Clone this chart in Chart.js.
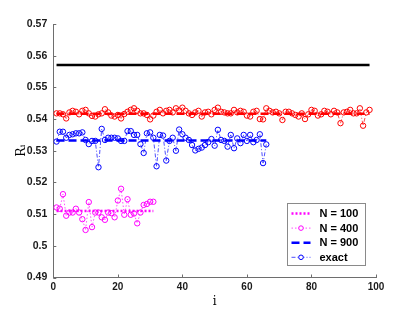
<!DOCTYPE html>
<html>
<head>
<meta charset="utf-8">
<script src="https://cdn.jsdelivr.net/npm/chart.js@4/dist/chart.umd.min.js"></script>
<style>
  html, body { margin: 0; padding: 0; background: #ffffff; }
  canvas { display: block; }
</style>
</head>
<body>
<canvas id="chart" width="415" height="312"></canvas>
<script>
// values
const X_TICKS = [0, 20, 40, 60, 80, 100];
const Y_TICKS = [0.49, 0.5, 0.51, 0.52, 0.53, 0.54, 0.55, 0.56, 0.57];

const exactLevel = 0.5571;
const exactRange = [1, 98];

const redValues = [
  0.5418, 0.5418, 0.5415, 0.5402, 0.5421, 0.5426, 0.5423, 0.5415, 0.5426, 0.5429,
  0.5418, 0.5410, 0.5408, 0.5415, 0.5418, 0.5431, 0.5421, 0.5411, 0.5408, 0.5413,
  0.5402, 0.5416, 0.5423, 0.5429, 0.5434, 0.5426, 0.5418, 0.5418, 0.5413, 0.5399,
  0.5411, 0.5423, 0.5429, 0.5418, 0.5426, 0.5429, 0.5421, 0.5434, 0.5427, 0.5436,
  0.5426, 0.5418, 0.5413, 0.5421, 0.5426, 0.5408, 0.5421, 0.5423,
  0.5415, 0.5429, 0.5436, 0.5423, 0.5421, 0.5418, 0.5418, 0.5429, 0.5421, 0.5426,
  0.5423, 0.5411, 0.5408, 0.5423, 0.5426, 0.5400, 0.5399, 0.5434, 0.5426, 0.5421,
  0.5423, 0.5418, 0.5397, 0.5423, 0.5423, 0.5418, 0.5413, 0.5408, 0.5418, 0.5400,
  0.5415, 0.5429, 0.5426, 0.5411, 0.5415, 0.5426, 0.5423, 0.5415, 0.5426, 0.5421,
  0.5387, 0.5421, 0.5423, 0.5429, 0.5418, 0.5418, 0.5434, 0.5379, 0.5421, 0.5429
];
const redMean = 0.5417;

const blueValues = [
  0.5329, 0.5360, 0.5360, 0.5341, 0.5350, 0.5352, 0.5355, 0.5355, 0.5358, 0.5334,
  0.5321, 0.5331, 0.5331, 0.5248, 0.5369, 0.5334, 0.5341, 0.5341, 0.5341, 0.5339,
  0.5331, 0.5331, 0.5362, 0.5362, 0.5350, 0.5350, 0.5321, 0.5293, 0.5355, 0.5358,
  0.5341, 0.5251, 0.5350, 0.5348, 0.5269, 0.5331, 0.5341, 0.5300, 0.5367, 0.5352,
  0.5341, 0.5334, 0.5318, 0.5301, 0.5306, 0.5310, 0.5318, 0.5327, 0.5337, 0.5316,
  0.5366, 0.5334, 0.5331, 0.5313, 0.5350, 0.5308, 0.5339, 0.5324, 0.5350, 0.5331,
  0.5350, 0.5327, 0.5334, 0.5352, 0.5261, 0.5320
];
const blueMean = 0.5332;

const magentaValues = [
  0.5121, 0.5117, 0.5163, 0.5095, 0.5105, 0.5105, 0.5117, 0.5105, 0.5084, 0.5050,
  0.5138, 0.5059, 0.5105, 0.5105, 0.5090, 0.5082, 0.5105, 0.5103, 0.5090, 0.5143,
  0.5180, 0.5098, 0.5147, 0.5098, 0.5102, 0.5071, 0.5105, 0.5129, 0.5132, 0.5139,
  0.5139
];
const magentaMean = 0.5110;

const RED = '#ff0000';
const BLUE = '#0000ff';
const MAGENTA = '#ff00ff';
const DASH_DOT = [4, 2, 1, 2];

function toPoints(values) {
  return values.map((v, i) => ({ x: i + 1, y: v }));
}

function flatLine(level, n) {
  return [{ x: 1, y: level }, { x: n, y: level }];
}

function pointSeries(label, values, color, dash) {
  return {
    label,
    data: toPoints(values),
    borderColor: color,
    borderWidth: 0.7,
    borderDash: dash,
    pointStyle: 'circle',
    pointRadius: 2.7,
    pointBorderWidth: 1,
    pointBorderColor: color,
    pointBackgroundColor: 'rgba(0,0,0,0)',
    inLegend: !!label,
  };
}

function meanSeries(label, level, n, color, dash) {
  return {
    label,
    data: flatLine(level, n),
    borderColor: color,
    borderWidth: 2.5,
    borderDash: dash,
    pointRadius: 0,
    inLegend: !!label,
  };
}

const datasets = [
  meanSeries('N = 100', magentaMean, magentaValues.length, MAGENTA, [2, 2]),
  pointSeries('N = 400', magentaValues, MAGENTA, [1.5, 2]),
  meanSeries('N = 900', blueMean, blueValues.length, BLUE, [8, 4]),
  pointSeries('exact', blueValues, BLUE, DASH_DOT),
  meanSeries('', redMean, redValues.length, RED, [8, 4]),
  pointSeries('', redValues, RED, DASH_DOT),
  {
    label: '',
    data: [{ x: exactRange[0], y: exactLevel }, { x: exactRange[1], y: exactLevel }],
    borderColor: '#000000',
    borderWidth: 2.5,
    pointRadius: 0,
    inLegend: false,
  },
];

const TICK_FONT = { family: 'Liberation Sans, Arial, sans-serif', size: 10, weight: 'bold' };
const Y_TICK_FONT = { family: 'Liberation Sans, Arial, sans-serif', size: 10.5, weight: 'bold' };
const AXIS_COLOR = '#6e6e6e';

// MATLAB style inward ticks plus the boxed legend
const extrasPlugin = {
  id: 'extras',
  afterDraw(chart) {
    const ctx = chart.ctx;
    const xs = chart.scales.x;
    const ys = chart.scales.y;
    ctx.save();
    ctx.strokeStyle = AXIS_COLOR;
    ctx.lineWidth = 1;
    ctx.beginPath();
    X_TICKS.forEach(t => {
      const px = Math.round(xs.getPixelForValue(t)) + 0.5;
      ctx.moveTo(px, ys.bottom);
      ctx.lineTo(px, ys.bottom - 3);
    });
    Y_TICKS.forEach(t => {
      const py = Math.round(ys.getPixelForValue(t)) + 0.5;
      ctx.moveTo(xs.left, py);
      ctx.lineTo(xs.left + 3, py);
    });
    ctx.stroke();

    // legend box
    const box = { left: 287.5, top: 203.5, width: 78, height: 62 };
    ctx.fillStyle = '#ffffff';
    ctx.fillRect(box.left, box.top, box.width, box.height);
    ctx.strokeStyle = '#8a8a8a';
    ctx.lineWidth = 1;
    ctx.strokeRect(box.left, box.top, box.width, box.height);

    const items = chart.data.datasets.filter(d => d.inLegend);
    items.forEach((d, i) => {
      const y = box.top + 10 + i * 14.6;
      const x0 = box.left + 4;
      const x1 = box.left + 23;
      ctx.strokeStyle = d.borderColor;
      ctx.lineWidth = d.borderWidth;
      ctx.setLineDash(d.borderDash || []);
      ctx.beginPath();
      ctx.moveTo(x0, y);
      ctx.lineTo(x1, y);
      ctx.stroke();
      ctx.setLineDash([]);
      if (d.pointRadius > 0) {
        ctx.lineWidth = 1;
        ctx.fillStyle = '#ffffff';
        ctx.beginPath();
        ctx.arc((x0 + x1) / 2, y, 2.3, 0, Math.PI * 2);
        ctx.fill();
        ctx.stroke();
      }
      ctx.fillStyle = '#000000';
      ctx.font = 'bold 11px Liberation Sans, Arial, sans-serif';
      ctx.textAlign = 'left';
      ctx.textBaseline = 'middle';
      ctx.fillText(d.label, box.left + 32, y + 0.5);
    });
    ctx.restore();
  }
};

new Chart(document.getElementById('chart'), {
  type: 'line',
  data: { datasets },
  options: {
    responsive: false,
    animation: false,
    devicePixelRatio: 1,
    layout: { padding: { top: 24, right: 39, left: 0, bottom: 0 } },
    plugins: {
      legend: { display: false },
      tooltip: { enabled: false },
    },
    scales: {
      x: {
        type: 'linear',
        min: 0,
        max: 100,
        afterFit: s => { s.height = 34.5; },
        afterBuildTicks: s => { s.ticks = X_TICKS.map(v => ({ value: v })); },
        grid: { drawOnChartArea: false, drawTicks: false },
        border: { display: true, color: AXIS_COLOR, width: 1 },
        ticks: { color: '#1a1a1a', font: TICK_FONT, padding: 4, maxRotation: 0 },
        title: {
          display: true,
          text: 'i',
          color: '#000000',
          font: { family: 'DejaVu Serif, Liberation Serif, serif', size: 12 },
          padding: { top: 0, bottom: 3 },
        },
      },
      y: {
        type: 'linear',
        min: 0.49,
        max: 0.57,
        afterFit: s => { s.width = 53.3; },
        afterBuildTicks: s => { s.ticks = Y_TICKS.map(v => ({ value: v })); },
        grid: { drawOnChartArea: false, drawTicks: false },
        border: { display: true, color: AXIS_COLOR, width: 1 },
        ticks: {
          color: '#1a1a1a',
          font: Y_TICK_FONT,
          padding: 6,
          callback: v => String(+v.toFixed(2)),
        },
        title: {
          display: true,
          text: 'Rᵢ',
          color: '#000000',
          font: { family: 'DejaVu Serif, Liberation Serif, serif', size: 12.5 },
          padding: { top: 14, bottom: 0 },
        },
      },
    },
  },
  plugins: [extrasPlugin],
});
</script>
</body>
</html>
